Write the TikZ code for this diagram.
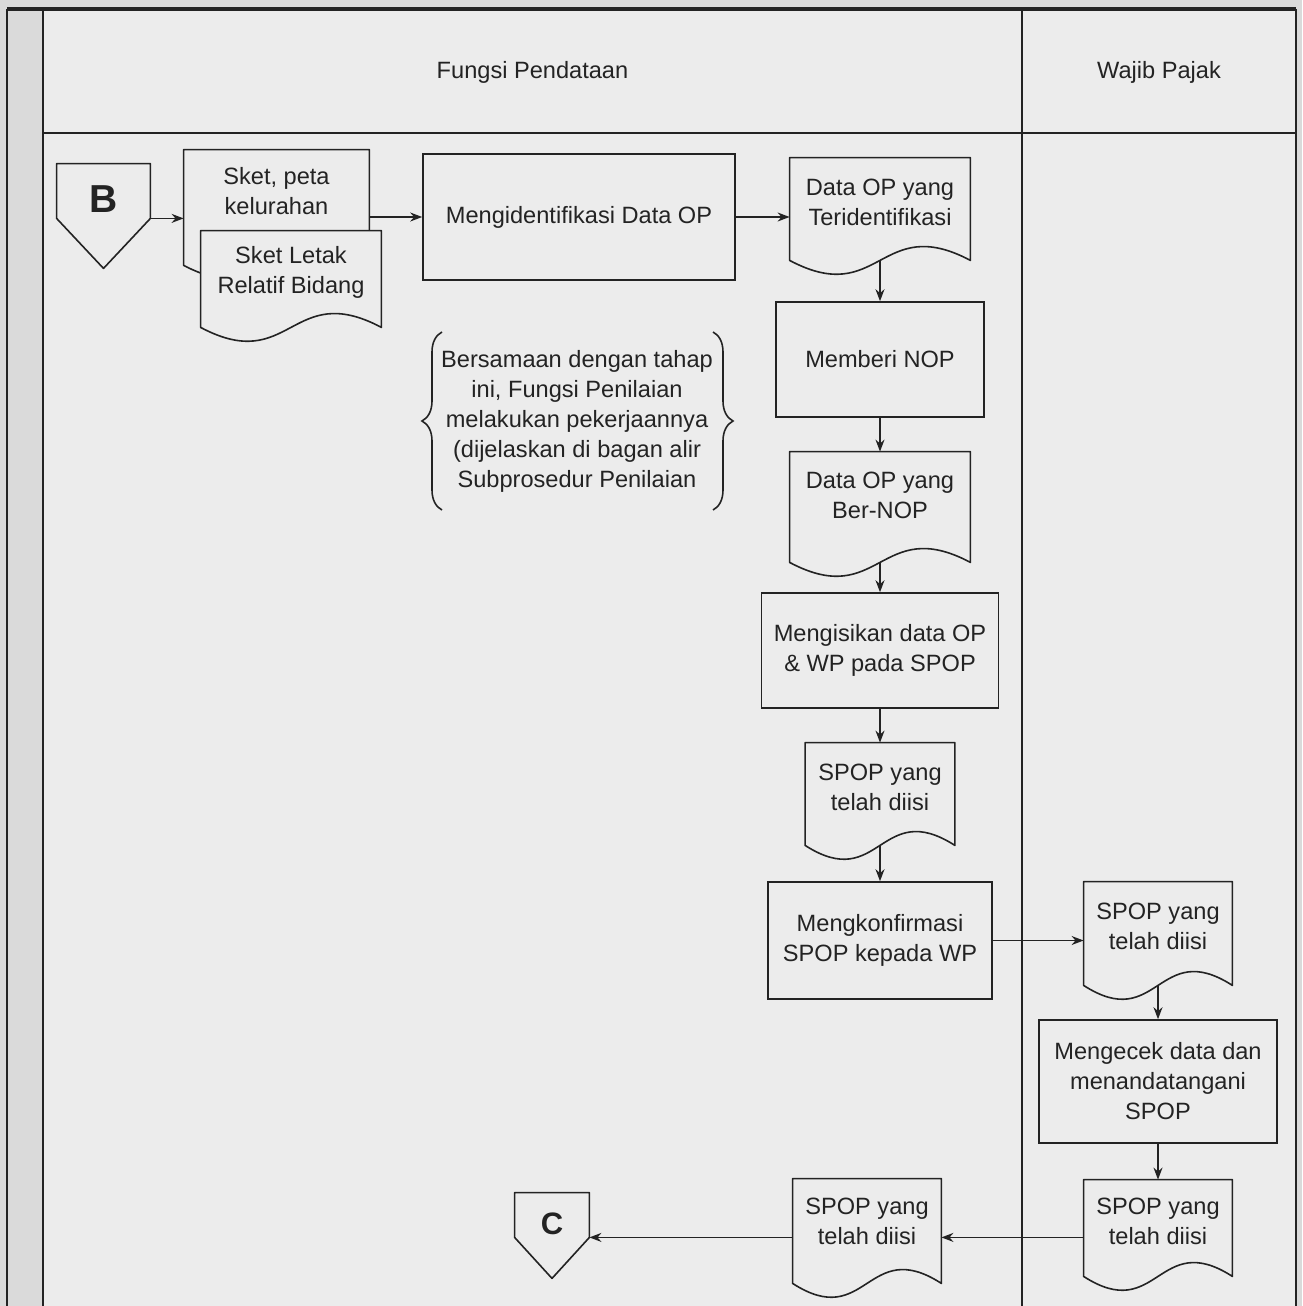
\documentclass[tikz,border=0pt]{standalone}
\usepackage{fontspec}
\setmainfont{Liberation Sans}
\usetikzlibrary{arrows.meta,calc,decorations.pathreplacing}
\pgfdeclarelayer{bglayer}
\pgfdeclarelayer{shplayer}
\pgfsetlayers{bglayer,shplayer,main}
\definecolor{outbg}{RGB}{218,218,218}
\definecolor{inbg}{RGB}{236,236,236}
\definecolor{ink}{RGB}{35,35,35}
\tikzset{
  every node/.style={font=\fontsize{11.8}{15}\selectfont, text=ink, align=center},
  proc/.style={draw=ink, fill=inbg, line width=0.8pt, inner sep=0pt},
  docnode/.style={inner sep=0pt},
  shapeline/.style={draw=ink, fill=inbg, line width=0.8pt, line join=round},
  arr/.style={draw=ink, line width=0.8pt, -{Stealth[length=6pt,width=4.5pt]}},
  laneline/.style={draw=ink, line width=1.1pt},
  bracestyle/.style={draw=ink, line width=0.8pt, decorate, decoration={brace, amplitude=10pt}},
}
\newcommand\docoutline[2]{%
  \path[shapeline] (#1.north west) -- (#1.north east) -- ($(#1.south east)+(0pt,-#2pt)$)
    .. controls ($(#1.south)+(0pt,24pt-#2pt)$) and ($(#1.south)+(0pt,-24pt-#2pt)$) .. ($(#1.south west)+(0pt,-#2pt)$) -- cycle;}
\newcommand\offoutline[2]{%
  \path[shapeline] (#1.north west) -- (#1.north east) -- (#1.south east) -- ($(#1.south)+(0pt,-#2pt)$) -- (#1.south west) -- cycle;}
\begin{document}
\begin{tikzpicture}[x=0.5pt, y=-0.5pt]
\useasboundingbox (0,0) rectangle (1302,1306);
\begin{pgfonlayer}{bglayer}
  \fill[outbg] (0,0) rectangle (1302,1306);
  \fill[inbg] (43,9) rectangle (1296,1306);
  \draw[laneline] (7,1306) -- (7,9);
  \draw[laneline] (1296,9) -- (1296,1306);
  \draw[laneline, line width=1.6pt] (7,9) -- (1296,9);
  \draw[laneline] (43,9) -- (43,1306);
  \draw[laneline] (1022,9) -- (1022,1306);
  \draw[laneline] (43,133) -- (1296,133);
\end{pgfonlayer}

% headers
\node (hdrA) at (532.5,72) {Fungsi Pendataan};
\node (hdrB) at (1159,72) {Wajib Pajak};

% nodes
\node[docnode, minimum width=46.5pt, minimum height=27pt, font=\fontsize{19.5}{20}\selectfont\bfseries] (B) at (103.5,191) {\raisebox{-4pt}[\height][\depth]{B}};
\node[docnode, minimum width=92.5pt, minimum height=41pt] (s1) at (276.5,191) {Sket, peta\\kelurahan};
\node[docnode, minimum width=90pt, minimum height=41pt] (s2) at (291,272) {Sket Letak\\Relatif Bidang};
\node[proc, minimum width=156pt, minimum height=63pt] (m1) at (579,217) {Mengidentifikasi Data OP};
\node[docnode, minimum width=90pt, minimum height=44pt] (d1) at (880,202) {Data OP yang\\Teridentifikasi};
\node[proc, minimum width=104pt, minimum height=57.5pt] (m2) at (880,359.5) {Memberi NOP};
\node[docnode, minimum width=90pt, minimum height=43pt] (d2) at (880,495) {Data OP yang\\Ber-NOP};
\node[proc, minimum width=118.5pt, minimum height=57.5pt] (m3) at (880,650.5) {Mengisikan data OP\\\& WP pada SPOP};
\node[docnode, minimum width=74.5pt, minimum height=44pt] (d3) at (880,787) {SPOP yang\\telah diisi};
\node[proc, minimum width=112pt, minimum height=58.5pt] (m4) at (880,940.5) {Mengkonfirmasi\\SPOP kepada WP};
\node[docnode, minimum width=74pt, minimum height=44.5pt] (w1) at (1158,926.5) {SPOP yang\\telah diisi};
\node[proc, minimum width=119pt, minimum height=61.5pt] (w2) at (1158,1081.5) {Mengecek data dan\\menandatangani\\SPOP};
\node[docnode, minimum width=74pt, minimum height=41pt] (w3) at (1158,1221) {SPOP yang\\telah diisi};
\node[docnode, minimum width=74pt, minimum height=42pt] (d4) at (867,1221) {SPOP yang\\telah diisi};
\node[docnode, minimum width=37pt, minimum height=22pt, font=\fontsize{15.5}{16}\selectfont\bfseries] (C) at (552,1215) {\raisebox{-4.5pt}[\height][\depth]{C}};

\node (note) at (577,421) {Bersamaan dengan tahap\\ini, Fungsi Penilaian\\melakukan pekerjaannya\\(dijelaskan di bagan alir\\Subprosedur Penilaian};
\draw[bracestyle] (442,510) -- (442,332);
\draw[bracestyle] (713,332) -- (713,510);

\begin{pgfonlayer}{shplayer}
  \offoutline{B}{25}
  \docoutline{s1}{16.5}
  \docoutline{s2}{7}
  \docoutline{d1}{7}
  \docoutline{d2}{12}
  \docoutline{d3}{7}
  \docoutline{w1}{7}
  \docoutline{w3}{7}
  \docoutline{d4}{10}
  \offoutline{C}{20.5}
\end{pgfonlayer}

% connectors
\draw[arr] (B.south east) -- (B.south east -| s1.west);
\draw[arr] (s1.east |- m1.west) -- (m1.west);
\draw[arr] (m1.east) -- (m1.east -| d1.west);
\draw[arr, shorten <=7pt] (d1.south) -- (m2.north);
\draw[arr] (m2.south) -- (d2.north);
\draw[arr, shorten <=12pt] (d2.south) -- (m3.north);
\draw[arr] (m3.south) -- (d3.north);
\draw[arr, shorten <=7pt] (d3.south) -- (m4.north);
\draw[arr] (m4.east) -- (m4.east -| w1.west);
\draw[arr, shorten <=7pt] (w1.south) -- (w2.north);
\draw[arr] (w2.south) -- (w3.north);
\draw[arr] (w3.west |- C.south east) -- (d4.east |- C.south east);
\draw[arr] (d4.west |- C.south east) -- (C.south east);
\end{tikzpicture}
\end{document}
